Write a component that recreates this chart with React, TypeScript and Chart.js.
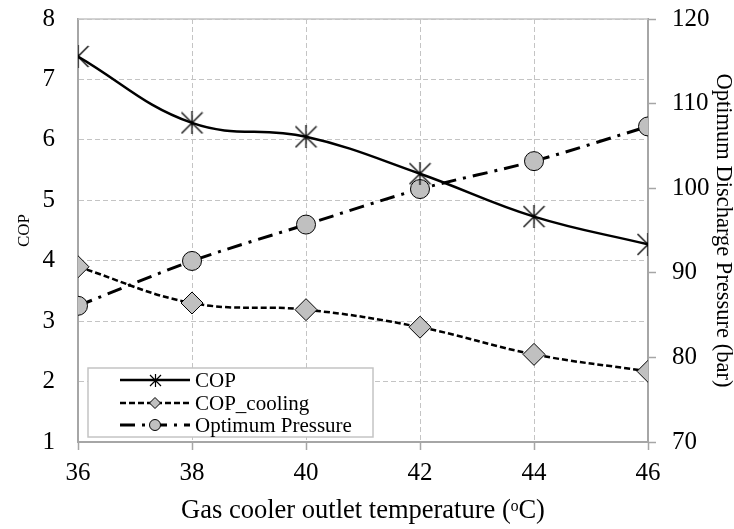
import React, { useEffect, useRef } from "react";
import { Chart, registerables } from "chart.js";

Chart.register(...registerables);

const temperatures = [36, 38, 40, 42, 44, 46];
const copValues = [7.38, 6.28, 6.05, 5.44, 4.73, 4.27];
const copCoolingValues = [3.9, 3.3, 3.19, 2.9, 2.45, 2.17];
const pressureValues = [86.1, 91.4, 95.7, 99.9, 103.2, 107.3];
const seriesNames = ["COP", "COP_cooling", "Optimum Pressure"];
const xTitle = "Gas cooler outlet temperature (ᵒC)";
const yTitle = "COP";
const y2Title = "Optimum Discharge Pressure (bar)";

const FONT = "'Liberation Serif', 'Times New Roman', serif";
const GRID = "#c4c4c4";
const AXIS = "#a6a6a6";
const MARK_FILL = "#c0c0c0";

function makeStar(size: number, lw: number): HTMLCanvasElement {
  const c = document.createElement("canvas");
  c.width = size;
  c.height = size;
  const ctx = c.getContext("2d")!;
  ctx.strokeStyle = "#000";
  ctx.lineWidth = lw;
  const h = size / 2;
  const r = h - 1;
  ctx.beginPath();
  ctx.moveTo(h - r, h - r);
  ctx.lineTo(h + r, h + r);
  ctx.moveTo(h + r, h - r);
  ctx.lineTo(h - r, h + r);
  ctx.moveTo(h, 0);
  ctx.lineTo(h, size);
  ctx.stroke();
  return c;
}

const lineStyles = [
  { width: 2.5, dash: [] as number[] },
  { width: 2.5, dash: [6, 3] },
  { width: 3, dash: [15, 7, 3, 7] },
];

const legendPlugin = {
  id: "boxLegend",
  afterDraw(chart: any) {
    const ctx = chart.ctx as CanvasRenderingContext2D;
    const { left, top, right, bottom } = chart.chartArea;
    ctx.save();
    ctx.strokeStyle = GRID;
    ctx.lineWidth = 1.5;
    ctx.beginPath();
    ctx.moveTo(left, top);
    ctx.lineTo(right, top);
    ctx.stroke();
    ctx.restore();

    const x0 = left + 10;
    const y0 = bottom - 74;
    const w = 285;
    const h = 69;
    ctx.save();
    ctx.fillStyle = "#ffffff";
    ctx.fillRect(x0, y0, w, h);
    ctx.strokeStyle = GRID;
    ctx.lineWidth = 1.5;
    ctx.strokeRect(x0, y0, w, h);

    const rows = [12, 35, 57];
    const star = makeStar(13, 1.2);
    seriesNames.forEach((name, i) => {
      const y = y0 + rows[i];
      const lx1 = left + 42;
      const lx2 = left + 112;
      const mx = left + 77;
      ctx.save();
      ctx.strokeStyle = "#000";
      ctx.lineWidth = lineStyles[i].width;
      ctx.setLineDash(lineStyles[i].dash);
      ctx.beginPath();
      ctx.moveTo(lx1, y);
      ctx.lineTo(lx2, y);
      ctx.stroke();
      ctx.restore();
      ctx.save();
      ctx.lineWidth = 1;
      ctx.strokeStyle = "#000";
      ctx.fillStyle = MARK_FILL;
      if (i === 0) {
        ctx.drawImage(star, Math.round(mx - star.width / 2), Math.round(y - star.height / 2));
      } else if (i === 1) {
        const r = 5.5;
        ctx.beginPath();
        ctx.moveTo(mx - r, y);
        ctx.lineTo(mx, y - r);
        ctx.lineTo(mx + r, y);
        ctx.lineTo(mx, y + r);
        ctx.closePath();
        ctx.fill();
        ctx.stroke();
      } else {
        ctx.beginPath();
        ctx.arc(mx, y, 5.5, 0, Math.PI * 2);
        ctx.fill();
        ctx.stroke();
      }
      ctx.restore();
      ctx.fillStyle = "#000";
      ctx.font = `21px ${FONT}`;
      ctx.textBaseline = "middle";
      ctx.textAlign = "left";
      ctx.fillText(name, left + 117, y + 1);
    });
    ctx.restore();
  },
};

export default function App() {
  const canvasRef = useRef<HTMLCanvasElement | null>(null);

  useEffect(() => {
    document.body.style.margin = "0";
    document.body.style.overflow = "hidden";
    const canvas = canvasRef.current;
    if (!canvas) return;
    const star = makeStar(23, 1.3);

    const chart = new Chart(canvas, {
      type: "line",
      data: {
        datasets: [
          {
            label: seriesNames[0],
            data: temperatures.map((t, i) => ({ x: t, y: copValues[i] })),
            yAxisID: "y",
            borderColor: "#000",
            borderWidth: lineStyles[0].width,
            borderDash: lineStyles[0].dash,
            tension: 0.4,
            pointStyle: star as any,
            pointRadius: 11,
            pointBackgroundColor: "#000",
            pointBorderColor: "#000",
          },
          {
            label: seriesNames[1],
            data: temperatures.map((t, i) => ({ x: t, y: copCoolingValues[i] })),
            yAxisID: "y",
            borderColor: "#000",
            borderWidth: lineStyles[1].width,
            borderDash: lineStyles[1].dash,
            tension: 0.4,
            pointStyle: "rectRot",
            pointRadius: 11,
            pointBackgroundColor: MARK_FILL,
            pointBorderColor: "#000",
            pointBorderWidth: 1,
          },
          {
            label: seriesNames[2],
            data: temperatures.map((t, i) => ({ x: t, y: pressureValues[i] })),
            yAxisID: "y2",
            borderColor: "#000",
            borderWidth: lineStyles[2].width,
            borderDash: lineStyles[2].dash,
            tension: 0.3,
            pointStyle: "circle",
            pointRadius: 9.5,
            pointBackgroundColor: MARK_FILL,
            pointBorderColor: "#000",
            pointBorderWidth: 1,
          },
        ],
      },
      options: {
        animation: false,
        responsive: true,
        maintainAspectRatio: false,
        layout: { autoPadding: false, padding: { top: 19, left: 0, right: 0, bottom: 0 } },
        plugins: {
          legend: { display: false },
          tooltip: { enabled: false },
        },
        scales: {
          x: {
            type: "linear",
            min: 36,
            max: 46,
            afterFit: (s: any) => {
              s.height = 87;
              s.paddingLeft = 0;
              s.paddingRight = 0;
            },
            ticks: {
              stepSize: 2,
              color: "#000",
              font: { family: FONT, size: 25 },
              padding: 8,
              maxRotation: 0,
            },
            grid: {
              color: GRID,
              lineWidth: 1,
              drawTicks: true,
              tickLength: 8,
              tickColor: AXIS,
              tickWidth: 1.5,
            },
            border: { display: true, color: AXIS, width: 2, dash: [5, 3] },
            title: {
              display: true,
              text: xTitle,
              color: "#000",
              font: { family: FONT, size: 26.5 },
              padding: { top: 0, bottom: 2 },
            },
          },
          y: {
            type: "linear",
            position: "left",
            min: 1,
            max: 8,
            afterFit: (s: any) => {
              s.width = 78;
              s.paddingTop = 0;
              s.paddingBottom = 0;
            },
            ticks: {
              stepSize: 1,
              color: "#000",
              font: { family: FONT, size: 25 },
              padding: 23,
            },
            grid: { color: GRID, lineWidth: 1, drawTicks: false },
            border: { display: true, color: AXIS, width: 2, dash: [5, 3] },
            title: {
              display: true,
              text: yTitle,
              color: "#000",
              font: { family: FONT, size: 17 },
              padding: { top: 14, bottom: 0 },
            },
          },
          y2: {
            type: "linear",
            position: "right",
            min: 70,
            max: 120,
            afterFit: (s: any) => {
              s.width = 86;
              s.paddingTop = 0;
              s.paddingBottom = 0;
            },
            ticks: {
              stepSize: 10,
              color: "#000",
              font: { family: FONT, size: 25 },
              padding: 16,
            },
            grid: {
              drawOnChartArea: false,
              drawTicks: true,
              tickLength: 8,
              tickColor: AXIS,
              tickWidth: 1.5,
            },
            border: { display: true, color: AXIS, width: 2 },
            title: {
              display: true,
              text: y2Title,
              color: "#000",
              font: { family: FONT, size: 22.5, lineHeight: 1 },
              padding: { top: 0, bottom: 0 },
            },
          },
        },
      },
      plugins: [legendPlugin],
    });

    return () => {
      chart.destroy();
    };
  }, []);

  return (
    <div style={{ position: "relative", width: "734px", height: "529px" }}>
      <canvas ref={canvasRef} />
    </div>
  );
}
